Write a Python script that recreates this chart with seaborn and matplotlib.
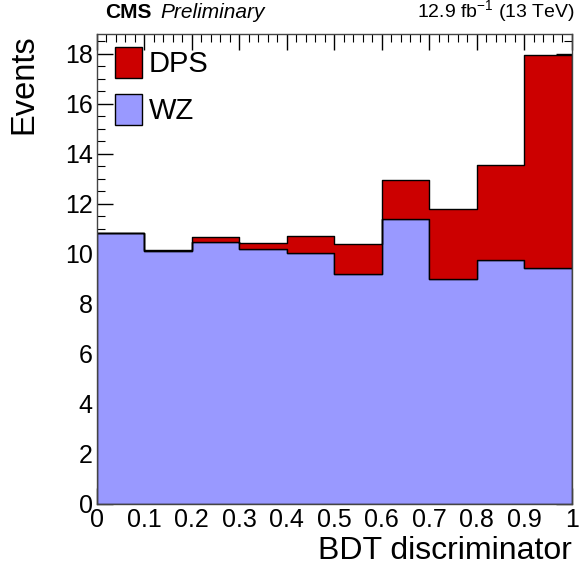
import numpy as np
import pandas as pd
import matplotlib
matplotlib.use("Agg")
import matplotlib.pyplot as plt
from matplotlib.patches import Patch
from matplotlib.ticker import MultipleLocator
import seaborn as sns

# bin edges of the BDT discriminator and stacked yields per bin
bin_edges = [0.0, 0.1, 0.2, 0.3, 0.4, 0.5, 0.6, 0.7, 0.8, 0.9, 1.0]
wz_yield = [10.85, 10.10, 10.49, 10.19, 10.03, 9.21, 11.41, 8.99, 9.77, 9.45]
dps_yield = [0.0, 0.05, 0.18, 0.26, 0.69, 1.19, 1.55, 2.80, 3.80, 8.51]
processes = ["DPS", "WZ"]
colors = {"DPS": "#cc0000", "WZ": "#9999ff"}

centers = [(a + b) / 2 for a, b in zip(bin_edges[:-1], bin_edges[1:])]
df = pd.DataFrame({
    "bdt": centers * 2,
    "events": dps_yield + wz_yield,
    "process": ["DPS"] * len(centers) + ["WZ"] * len(centers),
})

sns.set_style("ticks")
plt.rcParams["font.family"] = ["Liberation Sans", "DejaVu Sans"]
plt.rcParams["mathtext.fontset"] = "custom"
plt.rcParams["mathtext.rm"] = "Liberation Sans"
for key in ["text.color", "axes.labelcolor", "xtick.color", "ytick.color"]:
    plt.rcParams[key] = "black"

fig = plt.figure(figsize=(5.8, 5.75), dpi=100)
ax = fig.add_axes([0.167, 0.1235, 0.819, 0.8175])

sns.histplot(data=df, x="bdt", weights="events", hue="process",
             hue_order=processes, bins=bin_edges, multiple="stack",
             element="step", fill=True, alpha=1, palette=colors,
             edgecolor="black", linewidth=1.0, legend=False, ax=ax)

ax.set_xlim(0, 1)
ax.set_ylim(0, 18.8)
ax.xaxis.set_minor_locator(MultipleLocator(0.02))
ax.yaxis.set_major_locator(MultipleLocator(2))
ax.yaxis.set_minor_locator(MultipleLocator(0.5))
ax.set_xticks(np.arange(0, 1.01, 0.1))
ax.set_xticklabels(["0"] + [f"{v:.1f}" for v in np.arange(0.1, 0.95, 0.1)] + ["1"])
ax.tick_params(which="both", direction="in", top=True, right=True,
               labelsize=18, pad=3, colors="black")
ax.tick_params(which="major", length=11.5, width=1.0)
ax.tick_params(which="minor", length=5.5, width=0.8)
for s in ax.spines.values():
    s.set_color("#444444")
    s.set_linewidth(1.0)
    s.set_zorder(5)

ax.set_xlabel("BDT discriminator", fontsize=23, ha="right")
ax.xaxis.set_label_coords(1.0, -0.068)
ax.set_ylabel("Events", fontsize=23.5, ha="right")
ax.yaxis.set_label_coords(-0.122, 1.0)

handles = [Patch(facecolor=colors[p], edgecolor="black", label=p) for p in processes]
ax.legend(handles=handles, loc="upper left", frameon=False, fontsize=21,
          handlelength=0.93, handleheight=1.24, borderpad=0, borderaxespad=0,
          labelspacing=0.55, handletextpad=0.22,
          bbox_to_anchor=(18 / 475, 1 - 13 / 470))

fig.text(0.181, 0.968, "CMS", fontsize=15, fontweight="bold", ha="left", va="baseline")
fig.text(0.277, 0.968, "Preliminary", fontsize=15, style="italic", ha="left", va="baseline")
fig.text(0.991, 0.968, r"12.9 fb$^{\mathrm{-1}}$ (13 TeV)", fontsize=14, ha="right", va="baseline")

fig.savefig("out.png", dpi=100)
